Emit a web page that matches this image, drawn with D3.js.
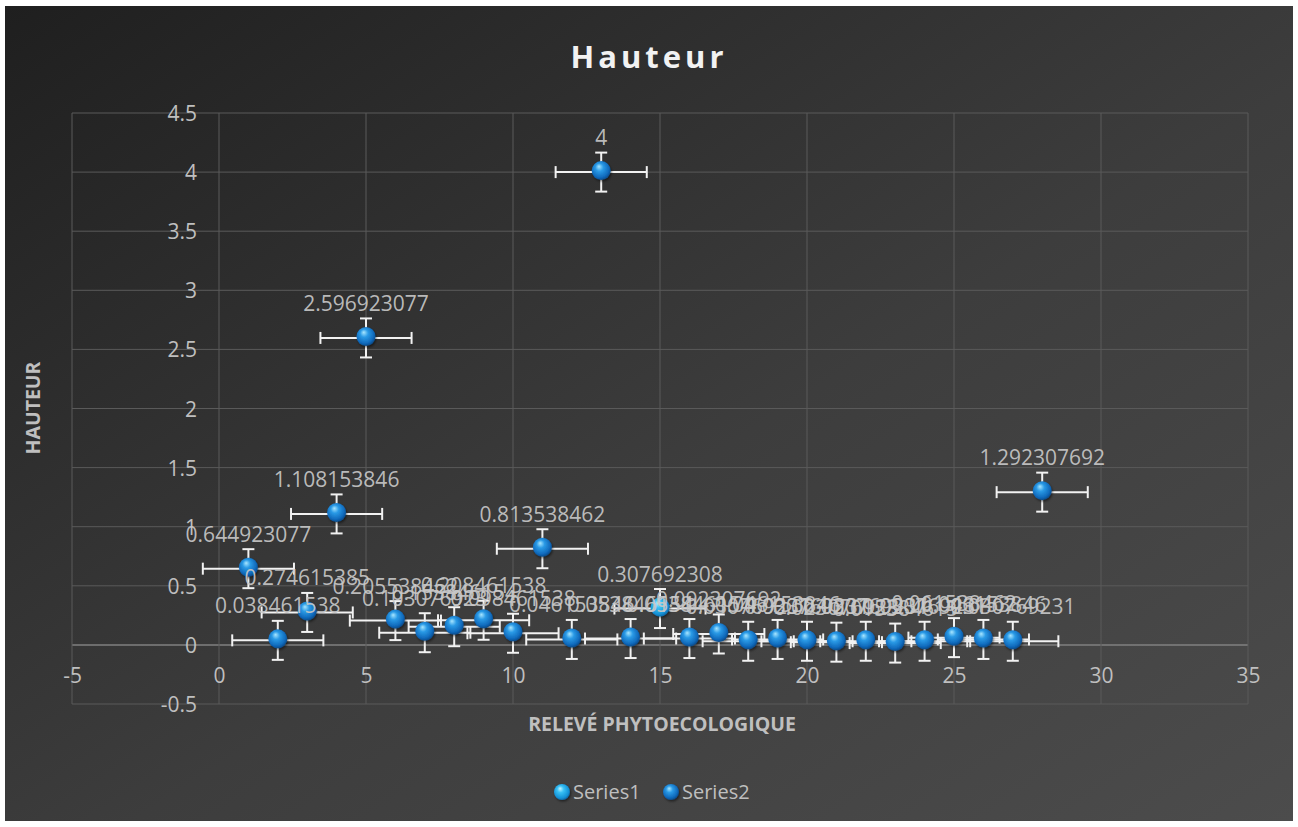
<!DOCTYPE html>
<html>
<head>
<meta charset="utf-8">
<script src="https://cdn.jsdelivr.net/npm/d3@7"></script>
<style>
html,body{margin:0;padding:0;background:#ffffff;}
svg{display:block;}
text{font-family:"Open Sans","Noto Sans",sans-serif;}
</style>
</head>
<body>
<svg id="chart" width="1298" height="827"></svg>
<script>
// ---- data ----
const chartTitle = "Hauteur";
const xTitle = "RELEVÉ PHYTOECOLOGIQUE";
const yTitle = "HAUTEUR";
const seriesNames = ["Series1", "Series2"];

const releve1 = [15];
const hauteur1 = [0.307692308];

const releve2 = [1,2,3,4,5,6,7,8,9,10,11,12,13,14,16,17,18,19,20,21,22,23,24,25,26,27,28];
const hauteur2 = [0.644923077,0.038461538,0.274615385,1.108153846,2.596923077,0.205538462,0.103076923,0.153846154,0.208461538,0.098461538,0.813538462,0.046153846,4,0.053846154,0.053846154,0.092307692,0.030769231,0.046153846,0.030769231,0.023076923,0.030769231,0.015384615,0.030769231,0.061538462,0.046153846,0.030769231,1.292307692];

const xErr = 1.55;   // standard error (x)
const yErr = 0.165;  // standard error (y)

const xTicks = [-5,0,5,10,15,20,25,30,35];
const yTicks = [-0.5,0,0.5,1,1.5,2,2.5,3,3.5,4,4.5];

// ---- drawing ----
const svg = d3.select("#chart");
const defs = svg.append("defs");

const bg = defs.append("linearGradient").attr("id","bg")
  .attr("x1","0").attr("y1","0").attr("x2","1").attr("y2","1");
bg.append("stop").attr("offset","0%").attr("stop-color","#1f1f1f");
bg.append("stop").attr("offset","55%").attr("stop-color","#3d3d3d");
bg.append("stop").attr("offset","100%").attr("stop-color","#4c4c4c");

function sphere(id, c0, c1, c2, c3){
  const g = defs.append("radialGradient").attr("id",id)
    .attr("cx","45%").attr("cy","42%").attr("r","60%").attr("fx","38%").attr("fy","28%");
  g.append("stop").attr("offset","0%").attr("stop-color",c0);
  g.append("stop").attr("offset","35%").attr("stop-color",c1);
  g.append("stop").attr("offset","80%").attr("stop-color",c2);
  g.append("stop").attr("offset","100%").attr("stop-color",c3);
}
sphere("s2","#a8e6ff","#2a9ae6","#0f68ba","#0a457f");
sphere("s1","#c4f4ff","#38c0f4","#1592d6","#0c64a2");

const shadow = defs.append("filter").attr("id","sh").attr("x","-50%").attr("y","-50%").attr("width","200%").attr("height","200%");
shadow.append("feDropShadow").attr("dx",1).attr("dy",1.5).attr("stdDeviation",1.2).attr("flood-color","#000").attr("flood-opacity",0.5);

svg.append("rect").attr("x",5).attr("y",6).attr("width",1288).attr("height",815).attr("fill","url(#bg)");

const x = d3.scaleLinear().domain([-5,35]).range([72,1248]);
const y = d3.scaleLinear().domain([-0.5,4.5]).range([704,113]);

// grid
const grid = svg.append("g");
grid.selectAll("line.h").data(yTicks).join("line")
  .attr("x1",x(-5)).attr("x2",x(35))
  .attr("y1",d=>y(d)).attr("y2",d=>y(d))
  .attr("stroke",d=>d===0?"#808080":"#5a5a5a").attr("stroke-width",d=>d===0?1.5:1);
grid.selectAll("line.v").data(xTicks).join("line")
  .attr("y1",y(-0.5)).attr("y2",y(4.5))
  .attr("x1",d=>x(d)).attr("x2",d=>x(d))
  .attr("stroke","#5a5a5a").attr("stroke-width",1);

// axes via d3 (labels only)
const fmt = d => String(d);
const xAxis = d3.axisBottom(x).tickValues(xTicks).tickSize(0).tickPadding(0).tickFormat(fmt);
const gx = svg.append("g").attr("transform",`translate(0,${y(0)})`).call(xAxis);
gx.select(".domain").remove();
gx.selectAll("text").attr("dy",null).attr("y",38).attr("fill","#bfbfbf")
  .style("font-size","21px").style("font-family","'Open Sans',sans-serif");

const yAxis = d3.axisLeft(y).tickValues(yTicks).tickSize(0).tickPadding(0).tickFormat(fmt);
const gy = svg.append("g").attr("transform",`translate(${x(0)-22},0)`).call(yAxis);
gy.select(".domain").remove();
gy.selectAll("text").attr("dy","0.36em").attr("x",0).attr("fill","#bfbfbf")
  .style("font-size","21px").style("font-family","'Open Sans',sans-serif");

// points
const pts = [];
releve1.forEach((v,i)=>pts.push({x:v,y:hauteur1[i],s:0}));
releve2.forEach((v,i)=>pts.push({x:v,y:hauteur2[i],s:1}));
const order = pts.slice().sort((a,b)=>a.s-b.s);

const errG = svg.append("g").attr("stroke","#f2f2f2").attr("stroke-width",2).attr("fill","none");
const cap = 6;
order.forEach(p=>{
  const px=x(p.x), py=y(p.y);
  const xl=x(p.x-xErr), xr=x(p.x+xErr), yt=y(p.y+yErr), yb=y(p.y-yErr);
  errG.append("line").attr("x1",xl).attr("x2",xr).attr("y1",py).attr("y2",py);
  errG.append("line").attr("x1",xl).attr("x2",xl).attr("y1",py-cap).attr("y2",py+cap);
  errG.append("line").attr("x1",xr).attr("x2",xr).attr("y1",py-cap).attr("y2",py+cap);
  errG.append("line").attr("x1",px).attr("x2",px).attr("y1",yt).attr("y2",yb);
  errG.append("line").attr("x1",px-cap).attr("x2",px+cap).attr("y1",yt).attr("y2",yt);
  errG.append("line").attr("x1",px-cap).attr("x2",px+cap).attr("y1",yb).attr("y2",yb);
});

svg.append("g").selectAll("circle").data(order).join("circle")
  .attr("cx",d=>x(d.x)).attr("cy",d=>y(d.y)-1.5).attr("r",9.5)
  .attr("fill",d=>d.s===0?"url(#s1)":"url(#s2)").attr("filter","url(#sh)");

// data labels
svg.append("g").selectAll("text").data(order).join("text")
  .attr("x",d=>x(d.x)).attr("y",d=>y(d.y)-27)
  .attr("text-anchor","middle").attr("fill","#c8c8c8").attr("fill-opacity",0.92)
  .style("font-size","21px")
  .text(d=>String(d.y));

// titles
svg.append("text").attr("x",649).attr("y",68).attr("text-anchor","middle")
  .attr("fill","#f2f2f2").style("font-size","31px").style("font-weight","bold")
  .style("letter-spacing","4px").text(chartTitle);

svg.append("text").attr("x",662).attr("y",731).attr("text-anchor","middle")
  .attr("fill","#bfbfbf").style("font-size","19.5px").style("font-weight","bold")
  .text(xTitle);

svg.append("text").attr("transform","translate(33,408) rotate(-90)")
  .attr("text-anchor","middle").attr("dy","0.35em")
  .attr("fill","#bfbfbf").style("font-size","19.5px").style("font-weight","bold")
  .text(yTitle);

// legend
const legX = [562, 671];
const leg = svg.append("g");
seriesNames.forEach((n,i)=>{
  leg.append("circle").attr("cx",legX[i]).attr("cy",792).attr("r",8)
    .attr("fill",i===0?"url(#s1)":"url(#s2)").attr("filter","url(#sh)");
  leg.append("text").attr("x",legX[i]+11).attr("y",792).attr("dy","0.36em")
    .attr("fill","#bfbfbf").style("font-size","20px").text(n);
});
</script>
</body>
</html>
